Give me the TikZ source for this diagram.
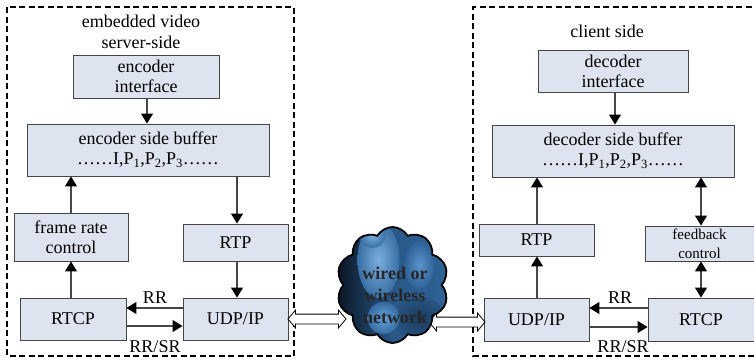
\documentclass[tikz,border=0pt]{standalone}
\usepackage{fontspec}
\setmainfont{Liberation Serif}
\usetikzlibrary{arrows.meta,shapes.symbols,shapes.arrows}

\definecolor{boxfill}{RGB}{221,228,240}
\definecolor{boxline}{RGB}{70,70,70}
\definecolor{cloudDark}{RGB}{10,22,36}
\definecolor{cloudMid}{RGB}{46,98,150}
\definecolor{cloudLight}{RGB}{100,160,218}
\definecolor{cloudDeep}{RGB}{26,58,92}

\tikzset{
  blk/.style={draw=boxline, line width=0.9pt, fill=boxfill, align=center,
    inner sep=0pt, font=\fontsize{18}{20}\selectfont},
  smallblk/.style={blk, font=\fontsize{15}{19}\selectfont},
  region/.style={draw=black, line width=1.1pt, dash pattern=on 6pt off 3.5pt},
  titletext/.style={align=center, inner sep=0pt, font=\fontsize{18}{21}\selectfont},
  lbl/.style={inner sep=0pt, font=\fontsize{18}{20}\selectfont},
  flow/.style={draw=boxline, line width=1.1pt,
    -{Triangle[length=10pt,width=12pt,color=black]}},
  biflow/.style={draw=boxline, line width=1.1pt,
    {Triangle[length=10pt,width=12pt,color=black]}-{Triangle[length=10pt,width=12pt,color=black]}},
  link/.style={double arrow, draw=black, fill=white, line width=0.8pt,
    inner sep=0pt, text height=4.5pt, text depth=4.5pt,
    double arrow head extend=4pt, double arrow tip angle=100},
}

\begin{document}
\begin{tikzpicture}[x=1pt,y=-1pt]
\useasboundingbox (0,0) rectangle (754,360);
\clip (0,0) rectangle (754,360);

% the two sides (the client side runs on past the right edge)
\draw[region] (7,7) rectangle (294,356);
\draw[region] (780,7) -| (473,356) -- (780,356);

% ---------- server side ----------
\node[titletext] (srvT) at (141,32) {embedded video\\server-side};
\node[blk, minimum width=146, minimum height=43] (encI) at (146,76.5) {encoder\\interface};
\node[blk, minimum width=242, minimum height=52] (encB) at (148,150)
  {encoder side buffer\\……I,P\textsubscript{1},P\textsubscript{2},P\textsubscript{3}……};
\node[blk, minimum width=114, minimum height=48] (frc) at (71,237) {frame rate\\control};
\node[blk, minimum width=105, minimum height=37] (rtpL) at (235.5,242.5) {RTP};
\node[blk, minimum width=106, minimum height=42] (rtcpL) at (73,319) {RTCP};
\node[blk, minimum width=105, minimum height=42] (udpL) at (235.5,319) {UDP/IP};

\draw[flow] (encI.south -| 147,0) -- (encB.north -| 147,0);
\draw[flow] (frc.north) -- (encB.south -| frc.north);
\draw[flow] (encB.south -| 237,0) -- (rtpL.north -| 237,0);
\draw[flow] (rtcpL.north -| frc.south) -- (frc.south);
\draw[flow] (rtpL.south -| 237,0) -- (udpL.north -| 237,0);
\draw[flow] (udpL.west |- 0,308) -- (rtcpL.east |- 0,308);
\draw[flow] (rtcpL.east |- 0,326) -- (udpL.west |- 0,326);
\node[lbl] (rrL) at (155,298) {RR};
\node[lbl] (rrsrL) at (155,347) {RR/SR};

% ---------- client side ----------
\node[titletext] (cliT) at (607,31) {client side};
\node[blk, minimum width=150, minimum height=42] (decI) at (613,71) {decoder\\interface};
\node[blk, minimum width=242, minimum height=52] (decB) at (613,151)
  {decoder side buffer\\……I,P\textsubscript{1},P\textsubscript{2},P\textsubscript{3}……};
\node[blk, minimum width=115, minimum height=32] (rtpR) at (536.5,240) {RTP};
\node[smallblk, minimum width=109, minimum height=35] (fb) at (699.5,243.5) {feedback\\control};
\node[blk, minimum width=105, minimum height=43] (udpR) at (536.5,319.5) {UDP/IP};
\node[blk, minimum width=106, minimum height=43] (rtcpR) at (701,319.5) {RTCP};

\draw[flow] (decI.south -| 615,0) -- (decB.north -| 615,0);
\draw[flow] (rtpR.north -| 537,0) -- (decB.south -| 537,0);
\draw[biflow] (decB.south -| 701,0) -- (fb.north -| 701,0);
\draw[biflow] (fb.south -| 701,0) -- (rtcpR.north -| 701,0);
\draw[flow] (udpR.north -| 537,0) -- (rtpR.south -| 537,0);
\draw[flow] (rtcpR.west |- 0,308) -- (udpR.east |- 0,308);
\draw[flow] (udpR.east |- 0,327) -- (rtcpR.west |- 0,327);
\node[lbl] (rrR) at (620,298) {RR};
\node[lbl] (rrsrR) at (623,347) {RR/SR};

% ---------- network ----------
\node[link, minimum height=58] (linkL) at (317,319) {};
\node[link, minimum height=56] (linkR) at (457,322) {};

\node[cloud, cloud puffs=10, cloud puff arc=120, aspect=0.95,
      minimum width=112, minimum height=116, inner sep=0pt,
      draw=black, line width=1.8pt,
      left color=cloudDark, right color=cloudMid, middle color=cloudMid!90!black,
      path picture={
        \begin{scope}[shift={(path picture bounding box.center)}]
          \shade[inner color=cloudDeep, outer color=cloudMid!70!cloudDeep]
            (26,33) ellipse (26 and 22);
          \shade[inner color=cloudLight!85!white, outer color=cloudMid!80!cloudLight]
            (-14,-25) ellipse (21 and 38);
          \shade[inner color=cloudLight!85!white, outer color=cloudMid!80!cloudLight]
            (-20,-50) circle (13);
          \shade[inner color=cloudLight, outer color=cloudMid!85!cloudLight]
            (-9,33) circle (16);
          \shade[inner color=cloudLight!80!cloudMid, outer color=cloudMid]
            (27,-20) ellipse (15 and 24);
        \end{scope}
      }] (net) at (392.5,285) {};
\node[align=center, inner sep=0pt, text=black!85,
      font=\bfseries\fontsize{18}{22}\selectfont] (netT) at (395,295)
  {wired or\\wireless\\network};
\end{tikzpicture}
\end{document}
